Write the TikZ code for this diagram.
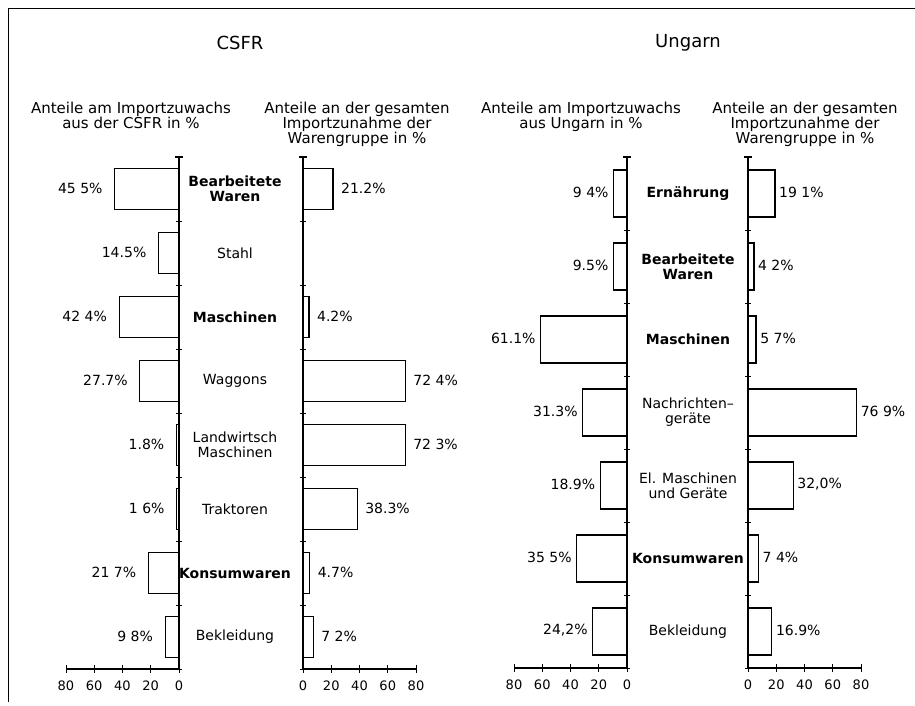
\documentclass[tikz,border=0pt]{standalone}
\usepackage{fontspec}
\setmainfont{DejaVu Sans}
\begin{document}
\begin{tikzpicture}[x=1pt,y=-1pt]
	\tikzset{
		bar/.style={draw,line width=1.2pt,fill=white},
		axisline/.style={line width=1.2pt},
		txt/.style={font=\fontsize{14}{15}\selectfont,inner sep=1pt},
		head/.style={font=\fontsize{15}{15}\selectfont,inner sep=1pt,align=center},
		cat/.style={txt,align=center},
		num/.style={font=\fontsize{13}{14}\selectfont,inner sep=1pt}
	}
	\useasboundingbox (0,0) rectangle (915,705);
	\draw[line width=1pt] (8,702) -- (8,8) -- (915,8);

	% titles and column heads
	\node[font=\fontsize{18}{20}\selectfont] (tcsfr) at (240,43) {CSFR};
	\node[font=\fontsize{18}{20}\selectfont] (tung) at (688,43) {Ungarn};
	\node[head,anchor=north] (hcl) at (131,101) {Anteile am Importzuwachs\\aus der CSFR in \%};
	\node[head,anchor=north] (hcr) at (357,101) {Anteile an der gesamten\\Importzunahme der\\Warengruppe in \%};
	\node[head,anchor=north] (hul) at (581,101) {Anteile am Importzuwachs\\aus Ungarn in \%};
	\node[head,anchor=north] (hur) at (805,101) {Anteile an der gesamten\\Importzunahme der\\Warengruppe in \%};

	% axes with ticks and scales
	\foreach \ax/\dir/\n/\h/\k in {179/-1/8/64/a, 303/1/8/64/b, 627/-1/7/73/c, 748/1/7/73/d} {
		\pgfmathsetmacro\yb{157+\n*\h}
		\draw[axisline] (\ax,157) -- (\ax,\yb);
		\draw[axisline] (\ax-4,157) -- (\ax+4,157);
		\foreach \j in {1,...,\n} {
			\draw[line width=0.8pt] (\ax-3,157+\j*\h) -- (\ax+3,157+\j*\h);
		}
		\draw[axisline] (\ax,\yb) -- (\ax+\dir*113,\yb);
		\foreach \v in {0,20,...,80} {
			\draw[line width=1pt] (\ax+\dir*1.4125*\v,\yb-4) -- (\ax+\dir*1.4125*\v,\yb+4);
			\node[num] (s\k\v) at (\ax+\dir*1.4125*\v,\yb+17) {\v};
		}
	}

	% CSFR
	\foreach \i/\vl/\vr/\tl/\tr/\cn in {
		0/45.5/21.2/{45 5\%}/{21.2\%}/{\bfseries Bearbeitete\\\bfseries Waren},
		1/14.5/0/{14.5\%}/{}/{Stahl},
		2/42.4/4.2/{42 4\%}/{4.2\%}/{\bfseries Maschinen},
		3/27.7/72.4/{27.7\%}/{72 4\%}/{Waggons},
		4/1.8/72.3/{1.8\%}/{72 3\%}/{Landwirtsch\\Maschinen},
		5/1.6/38.3/{1 6\%}/{38.3\%}/{Traktoren},
		6/21.7/4.7/{21 7\%}/{4.7\%}/{\bfseries Konsumwaren},
		7/9.8/7.2/{9 8\%}/{7 2\%}/{Bekleidung}} {
		\pgfmathsetmacro\ym{157+64*\i+32}
		\draw[bar] (179-1.4125*\vl,\ym-20.5) rectangle (179,\ym+20.5);
		\node[txt,anchor=east] (cl\i) at (179-1.4125*\vl-11,\ym-1) {\tl};
		\ifdim\vr pt>0pt
			\draw[bar] (303,\ym-20.5) rectangle (303+1.4125*\vr,\ym+20.5);
		\fi
		\node[txt,anchor=west] (cr\i) at (303+1.4125*\vr+7,\ym-1) {\tr};
		\node[cat] (cc\i) at (235,\ym) {\cn};
	}

	% Ungarn
	\foreach \i/\vl/\vr/\tl/\tr/\cn in {
		0/9.4/19.1/{9 4\%}/{19 1\%}/{\bfseries Ernährung},
		1/9.5/4.2/{9.5\%}/{4 2\%}/{\bfseries Bearbeitete\\\bfseries Waren},
		2/61.1/5.7/{61.1\%}/{5 7\%}/{\bfseries Maschinen},
		3/31.3/76.9/{31.3\%}/{76 9\%}/{Nachrichten–\\geräte},
		4/18.9/32.0/{18.9\%}/{32,0\%}/{El. Maschinen\\und Geräte},
		5/35.5/7.4/{35 5\%}/{7 4\%}/{\bfseries Konsumwaren},
		6/24.2/16.9/{24,2\%}/{16.9\%}/{Bekleidung}} {
		\pgfmathsetmacro\ym{157+73*\i+36.5}
		\draw[bar] (627-1.4125*\vl,\ym-23.5) rectangle (627,\ym+23.5);
		\node[txt,anchor=east] (ul\i) at (627-1.4125*\vl-4,\ym-1) {\tl};
		\draw[bar] (748,\ym-23.5) rectangle (748+1.4125*\vr,\ym+23.5);
		\node[txt,anchor=west] (ur\i) at (748+1.4125*\vr+3,\ym-1) {\tr};
		\node[cat] (uc\i) at (688,\ym) {\cn};
	}
\end{tikzpicture}
\end{document}
